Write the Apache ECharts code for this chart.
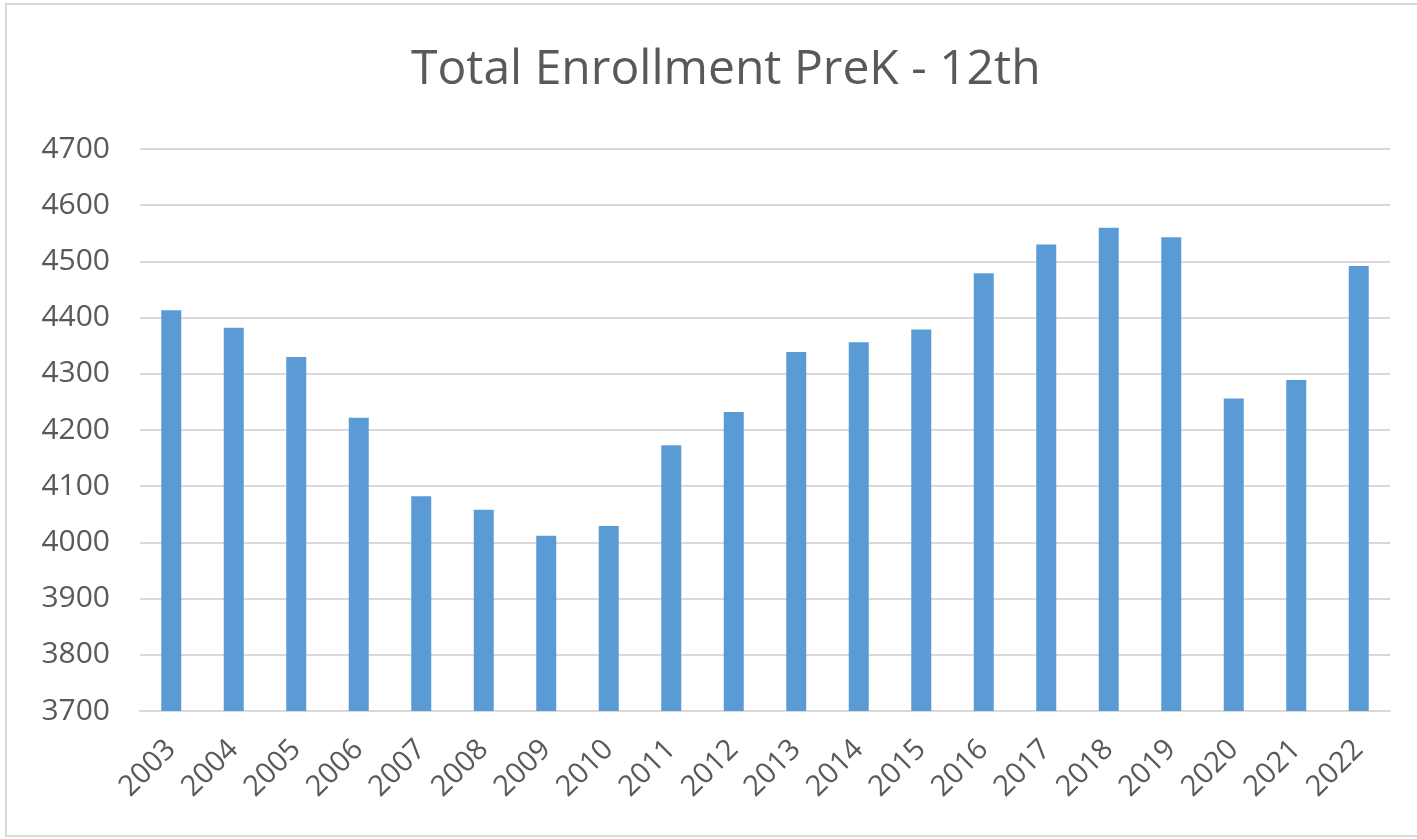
<!DOCTYPE html>
<html>
<head>
<meta charset="utf-8">
<script src="https://cdn.jsdelivr.net/npm/echarts@6/dist/echarts.min.js"></script>
<style>
  html, body { margin: 0; padding: 0; background: #fff; }
  #frame { position: absolute; left: 5px; top: 3px; width: 1440px; height: 834px; border: 2px solid #d9d9d9; box-sizing: border-box; }
  #chart { position: absolute; left: 0; top: 0; width: 1417px; height: 839px; }
</style>
</head>
<body>
<div id="frame"></div>
<div id="chart"></div>
<script>
// enrollment per school year
const years = ["2003", "2004", "2005", "2006", "2007", "2008", "2009", "2010", "2011", "2012",
  "2013", "2014", "2015", "2016", "2017", "2018", "2019", "2020", "2021", "2022"];
const enrollment = [4413, 4382, 4330, 4222, 4082, 4058, 4012, 4029, 4173, 4232,
  4339, 4356, 4379, 4479, 4530, 4560, 4543, 4256, 4289, 4492];

const font = "'Open Sans', sans-serif";
const textColor = "#595959";

var chart = echarts.init(document.getElementById("chart"));
var option = {
  animation: false,
  title: {
    text: "Total Enrollment PreK - 12th",
    left: 406,
    top: 41,
    textStyle: { fontFamily: font, fontSize: 48, fontWeight: "normal", color: textColor },
  },
  grid: { left: 140, right: 27, top: 149, bottom: 128 },
  xAxis: {
    type: "category",
    data: years,
    axisLine: { lineStyle: { color: "#d9d9d9", width: 2 } },
    axisTick: { show: false },
    axisLabel: { rotate: 45, fontFamily: font, fontSize: 29, color: textColor, margin: 34 },
  },
  yAxis: {
    type: "value",
    min: 3700,
    max: 4700,
    interval: 100,
    axisLine: { show: false },
    axisTick: { show: false },
    axisLabel: {
      fontFamily: font,
      fontSize: 30,
      color: textColor,
      margin: 30,
      formatter: function (v) { return String(v); },
    },
    splitLine: { lineStyle: { color: "#d9d9d9", width: 2 } },
  },
  series: [
    {
      name: "Enrollment",
      type: "bar",
      data: enrollment,
      barWidth: 20,
      itemStyle: { color: "#5b9bd5" },
    },
  ],
};
chart.setOption(option);
</script>
</body>
</html>
